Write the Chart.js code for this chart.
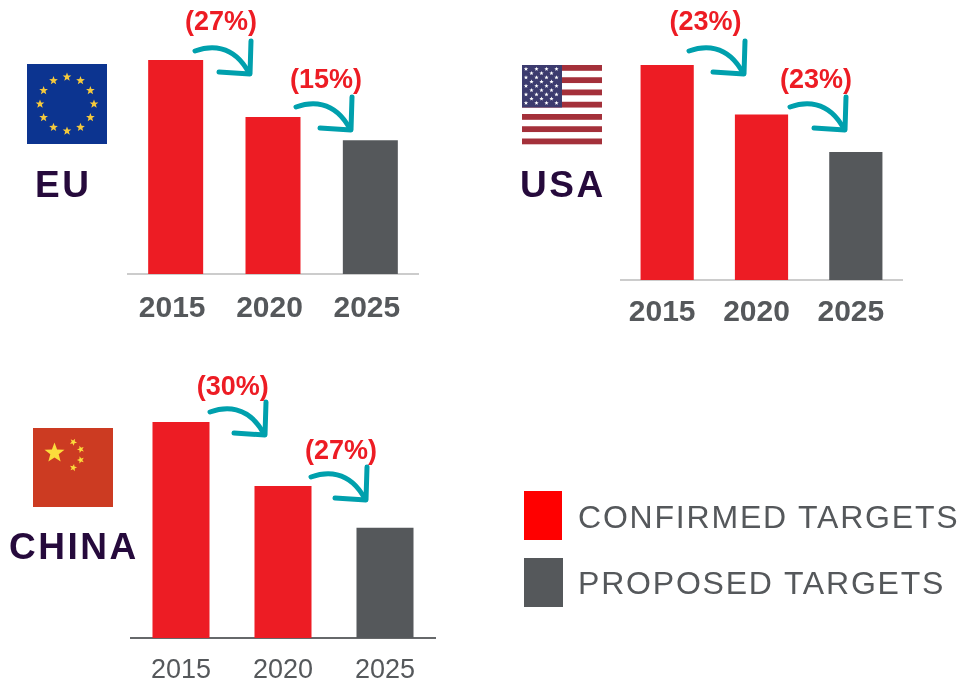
<!DOCTYPE html>
<html>
<head>
<meta charset="utf-8">
<script src="https://cdn.jsdelivr.net/npm/chart.js@4"></script>
<style>
html,body{margin:0;padding:0;background:#fff;width:961px;height:683px;overflow:hidden}
body{position:relative;font-family:"Liberation Sans",Arial,sans-serif}
canvas.c{position:absolute;display:block}
svg.o{position:absolute;left:0;top:0;pointer-events:none}
.pct{position:absolute;transform:translate(-50%,-50%);font-weight:700;font-size:27px;line-height:1;color:#ed1c24;white-space:nowrap}
.name{position:absolute;transform:translateY(-50%);font-weight:700;font-size:37px;letter-spacing:2.5px;line-height:1;color:#260a3c;white-space:nowrap}
.sw{position:absolute}
.lg{position:absolute;transform:translateY(-50%);font-size:32px;letter-spacing:1.8px;line-height:1;color:#55585b;white-space:nowrap}
</style>
</head>
<body>
<canvas class="c" id="eu" width="292" height="260"></canvas>
<canvas class="c" id="usa" width="283" height="265"></canvas>
<canvas class="c" id="china" width="306" height="265"></canvas>
<svg class="o" id="art" width="961" height="683" xmlns="http://www.w3.org/2000/svg"></svg>
<div class="name" style="left:35px;top:184px">EU</div>
<div class="name" style="left:520px;top:184px">USA</div>
<div class="name" style="left:9px;top:546px">CHINA</div>
<div id="pcts"></div>
<div class="sw" style="left:524px;top:491px;width:38px;height:49px;background:#ff0000"></div>
<div class="sw" style="left:524px;top:558px;width:39px;height:49px;background:#55585b"></div>
<div class="lg" style="left:578px;top:517px">CONFIRMED TARGETS</div>
<div class="lg" style="left:578px;top:583px">PROPOSED TARGETS</div>
<script>
const years = ["2015","2020","2025"];
const euValues = [100,73.4,62.5];
const usaValues = [100,77,59.5];
const chinaValues = [100,70.4,51];
const euChanges = ["(27%)","(15%)"];
const usaChanges = ["(23%)","(23%)"];
const chinaChanges = ["(30%)","(27%)"];
const RED="#ed1c24", GREY="#55585b";

function makeChart(id,values,o){
  const cv=document.getElementById(id);
  cv.style.left=o.left+"px"; cv.style.top=o.top+"px";
  new Chart(cv,{
    type:"bar",
    data:{labels:years,datasets:[{data:values,backgroundColor:[RED,RED,GREY],borderWidth:0,
      barPercentage:o.bar,categoryPercentage:1}]},
    options:{
      responsive:false,animation:false,devicePixelRatio:1,
      layout:{padding:0},
      plugins:{legend:{display:false},tooltip:{enabled:false},title:{display:false}},
      scales:{
        y:{display:false,min:0,max:100},
        x:{
          afterFit:s=>{s.height=o.band;s.paddingLeft=0;s.paddingRight=0;},
          grid:{display:false,drawTicks:false},
          border:{display:true,color:o.axis,width:2},
          ticks:{color:GREY,font:{family:"Liberation Sans",size:o.font,weight:o.weight},
            padding:o.pad,labelOffset:o.shift,maxRotation:0,autoSkip:false}
        }
      }
    }
  });
}
makeChart("eu",euValues,{left:127,top:60,band:46,bar:.565,axis:"#cccccc",font:30,weight:"bold",pad:17,shift:-3.5});
makeChart("usa",usaValues,{left:620,top:65,band:50,bar:.564,axis:"#cccccc",font:30,weight:"bold",pad:15,shift:-5});
makeChart("china",chinaValues,{left:130,top:422,band:49,bar:.559,axis:"#66686a",font:27,weight:"normal",pad:16,shift:0});

const pctHost=document.getElementById("pcts");
[[euChanges[0],221,21],[euChanges[1],326,79],[usaChanges[0],705.5,21],[usaChanges[1],816,79],
 [chinaChanges[0],232.7,386],[chinaChanges[1],341,450]].forEach(([t,x,y])=>{
  const d=document.createElement("div");d.className="pct";d.textContent=t;d.style.left=x+"px";d.style.top=y+"px";pctHost.appendChild(d);
});

const NS="http://www.w3.org/2000/svg";
const art=document.getElementById("art");
function el(n,a,p){const e=document.createElementNS(NS,n);for(const k in a)e.setAttribute(k,a[k]);(p||art).appendChild(e);return e;}
function arrow(x,y){
  const g=el("g",{transform:`translate(${x} ${y})`,fill:"none",stroke:"#00a0ad","stroke-width":5,"stroke-linecap":"round","stroke-linejoin":"round"});
  el("path",{d:"M0 0 C14 -5 38 -8 54 22"},g);
  el("path",{d:"M56 -10 L55 23 L24 21"},g);
}
[[195,51],[296,107],[689,51],[790,107],[210,412],[311,477]].forEach(a=>arrow(a[0],a[1]));

function star(cx,cy,r,fill,rot){
  let p=[];for(let i=0;i<10;i++){const a=(rot||0)-Math.PI/2+i*Math.PI/5,q=i%2?r*.42:r;p.push((cx+q*Math.cos(a)).toFixed(2)+","+(cy+q*Math.sin(a)).toFixed(2));}
  el("polygon",{points:p.join(" "),fill:fill});
}
// EU flag
el("rect",{x:27,y:64,width:80,height:80,fill:"#0c3490"});
for(let i=0;i<12;i++){const a=i*Math.PI/6;star(67+27*Math.sin(a),104-27*Math.cos(a),4.6,"#f5c93c");}
// USA flag
for(let i=0;i<7;i++)el("rect",{x:522,y:65+i*12.25,width:80,height:5.8,fill:"#a4303a"});
el("rect",{x:522,y:65,width:40,height:42.5,fill:"#3c3b6e"});
for(let r=0;r<9;r++){const y=69+r*4.25;const xs=r%2?[531.5,541.5,551.5]:[526,536.5,546.5,556.5];xs.forEach(x=>star(x,y,2.3,"#ffffff"));}
// China flag
el("rect",{x:33,y:428,width:80,height:79,fill:"#cc3b22"});
star(54.5,453,10.5,"#fbdc3c");
star(73.3,442,3.8,"#fbdc3c",.5);star(80.7,449.3,3.8,"#fbdc3c",.9);star(80.7,460,3.8,"#fbdc3c",-.3);star(73.3,467.7,3.8,"#fbdc3c",.2);
</script>
</body>
</html>
